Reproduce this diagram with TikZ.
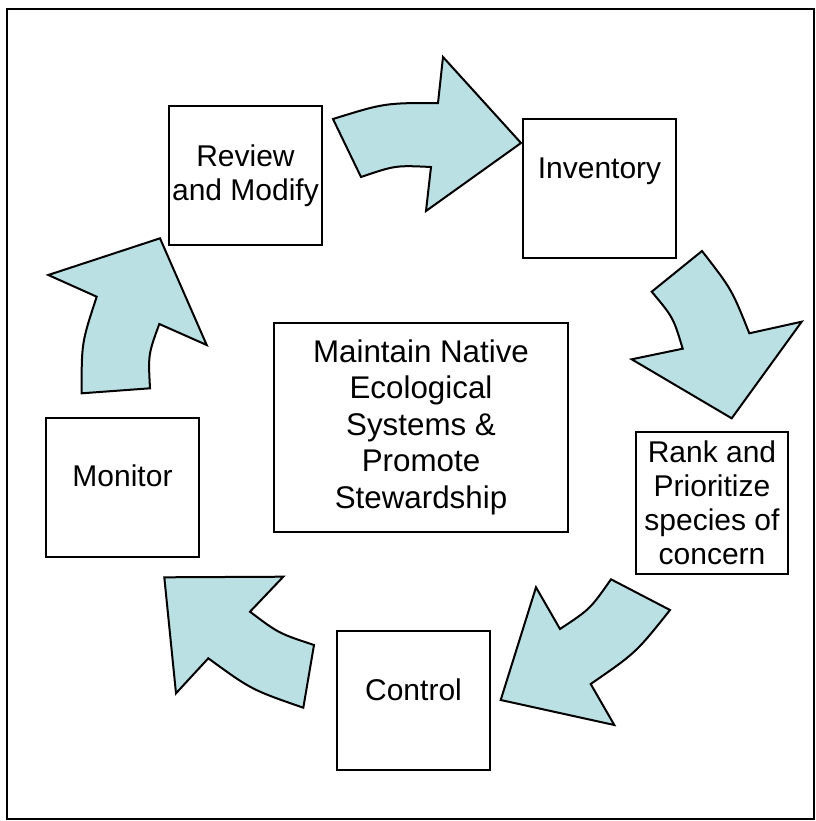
\documentclass[tikz,border=0pt]{standalone}
\usepackage{fontspec}
\setmainfont{Liberation Sans}
\usetikzlibrary{positioning}

\definecolor{arrowfill}{RGB}{187,224,227}

\begin{document}
\begin{tikzpicture}[
    x=0.75pt, y=-0.75pt,
    font=\fontsize{22.5pt}{25.5pt}\selectfont
]
\tikzset{
    stage/.style = {rectangle, draw=black, line width=1.5pt, align=center, inner sep=0pt,
                    minimum width=114.75pt, minimum height=104.25pt},
    word/.style  = {align=center, inner sep=0pt},
    goal/.style  = {rectangle, draw=black, line width=1.5pt, align=center, inner sep=0pt,
                    minimum width=220.5pt, minimum height=156.75pt,
                    font=\fontsize{23.5pt}{27.4pt}\selectfont},
    turn/.style  = {draw=black, line width=1.5pt, fill=arrowfill, line join=miter}
}
\useasboundingbox (0,0) rectangle (816,821);
\draw[line width=2pt] (7,9) rectangle (814,819);

% stages of the cycle
\node[stage] at (245.5,175.5) (rev) {Review\\and Modify};
\node[stage, label={[word, name=invt, yshift=13pt]center:Inventory}] at (599.5,188.5) (inv) {};
\node[stage, minimum width=114pt, minimum height=106.5pt] at (712,503) (rank) {Rank and\\Prioritize\\species of\\concern};
\node[stage, label={[word, name=ctrlt, yshift=7.9pt]center:Control}] at (413.5,700.5) (ctrl) {};
\node[stage, label={[word, name=mont, yshift=8.6pt]center:Monitor}] at (122.5,487.5) (mon) {};
\node[goal] at (421,427) (aim) {Maintain Native\\Ecological\\Systems \&\\Promote\\Stewardship};

% curved block arrows
\draw[turn] (333,119) .. controls (384.6,103) .. (438,103) -- (443,57) -- (521,143)
    -- (426,211) -- (431,167) .. controls (395.4,165.3) .. (361,177) -- cycle;
\draw[turn] (651.7,291.7) -- (702,251) .. controls (731.8,289.4) .. (749.3,333.3)
    -- (801.7,321.7) -- (731.7,418.3) -- (631.7,359.3) -- (682.7,348.7)
    .. controls (673.3,317.5) .. cycle;
\draw[turn] (611,579.3) .. controls (590.1,609.1) .. (560,629) -- (536,587.3)
    -- (500.7,700) -- (614.3,725) -- (590.7,684) .. controls (636,652.7) .. (670,610) -- cycle;
\draw[turn] (314,645) .. controls (278.6,633.3) .. (250,611.7) -- (283.3,576.7)
    -- (164.3,577.3) -- (176,693.3) -- (208.3,658.3) .. controls (251.4,689.7) .. (303.3,707.7) -- cycle;
\draw[turn] (160,238.3) -- (206.7,345) -- (159.3,324) .. controls (148.2,354.4) .. (150,388.3)
    -- (81.7,393.3) .. controls (81.5,343) .. (96.7,296.7) -- (48.3,275) -- cycle;
\end{tikzpicture}
\end{document}
